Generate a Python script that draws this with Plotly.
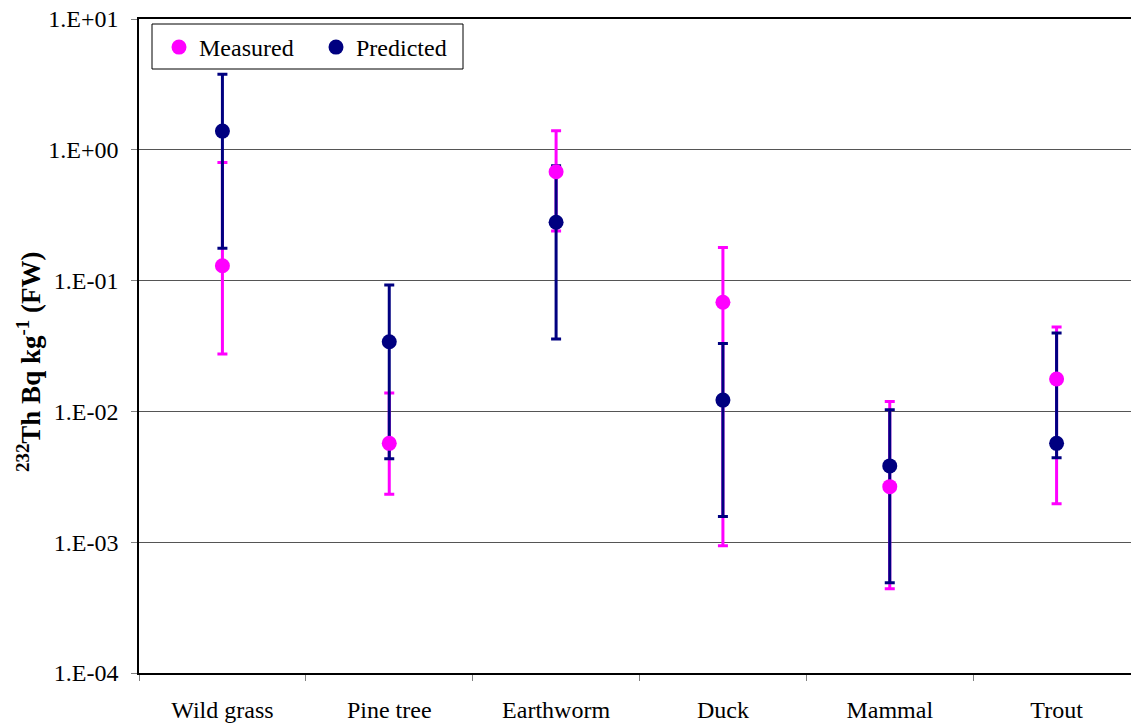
import plotly.graph_objects as go

categories = ["Wild grass", "Pine tree", "Earthworm", "Duck", "Mammal", "Trout"]
measured = [0.130, 0.0057, 0.68, 0.0683, 0.00266, 0.0177]
measured_high = [0.80, 0.0138, 1.40, 0.179, 0.0119, 0.0442]
measured_low = [0.0275, 0.00233, 0.239, 0.00094, 0.00044, 0.00197]
predicted = [1.39, 0.0341, 0.279, 0.0122, 0.00383, 0.0057]
predicted_high = [3.78, 0.0925, 0.756, 0.033, 0.0103, 0.0397]
predicted_low = [0.177, 0.00435, 0.0358, 0.00157, 0.00049, 0.00443]
y_tickvals = [1e-4, 1e-3, 1e-2, 1e-1, 1e0, 1e1]
y_ticktext = ["1.E-04", "1.E-03", "1.E-02", "1.E-01", "1.E+00", "1.E+01"]
y_title = "<sup>232</sup>Th Bq kg<sup>-1</sup> (FW)"

MAG = "#FF00FF"
NAVY = "#000080"
FONT = "Liberation Serif"
FS = 24

# plot area in pixels (for converting layout positions)
L, T, W, H = 139, 19, 992, 654


def px_x(x):
    return (x - L) / W


def px_y(y):
    return 1 - (y - T) / H


def err(vals, hi, lo):
    return [h - v for v, h in zip(vals, hi)], [v - l for v, l in zip(vals, lo)]


m_up, m_dn = err(measured, measured_high, measured_low)
p_up, p_dn = err(predicted, predicted_high, predicted_low)

fig = go.Figure()
for vals, up, dn, col in [(measured, m_up, m_dn, MAG), (predicted, p_up, p_dn, NAVY)]:
    fig.add_trace(go.Scatter(
        x=categories, y=vals, mode="markers", showlegend=False, hoverinfo="skip",
        marker=dict(size=1, color="rgba(0,0,0,0)"),
        error_y=dict(type="data", symmetric=False, array=up, arrayminus=dn,
                     color=col, thickness=3, width=5),
    ))
fig.add_trace(go.Scatter(x=categories, y=measured, mode="markers", name="Measured",
                         marker=dict(size=15, color=MAG)))
fig.add_trace(go.Scatter(x=categories, y=predicted, mode="markers", name="Predicted",
                         marker=dict(size=15, color=NAVY)))

fig.add_shape(type="rect", xref="paper", yref="paper",
              x0=px_x(152), x1=px_x(463), y0=px_y(69), y1=px_y(24),
              line=dict(color="black", width=1), fillcolor="white", layer="below")

fig.add_annotation(text=y_title, xref="paper", yref="paper",
                   x=px_x(29), y=px_y(362), xanchor="center", yanchor="middle",
                   textangle=-90, showarrow=False,
                   font=dict(family=FONT, size=27, color="black", weight="bold"))

fig.update_layout(
    width=1131, height=723,
    margin=dict(l=L, r=0, t=T, b=50),
    paper_bgcolor="white", plot_bgcolor="white",
    font=dict(family=FONT, size=FS, color="black"),
    showlegend=True,
    legend=dict(
        orientation="h", x=px_x(159), y=px_y(25), xanchor="left", yanchor="top",
        bgcolor="rgba(0,0,0,0)", borderwidth=0,
        font=dict(family=FONT, size=FS, color="black"),
        entrywidth=112,
    ),
    xaxis=dict(
        type="category", range=[-0.5, 5.446],
        showline=True, linecolor="black", linewidth=2, mirror=True,
        ticks="outside", tickson="boundaries", ticklen=6, tickcolor="#808080",
        showgrid=False, ticklabelstandoff=14,
        tickfont=dict(family=FONT, size=FS, color="black"),
    ),
    yaxis=dict(
        type="log", range=[-4, 1],
        tickvals=y_tickvals, ticktext=y_ticktext,
        showline=True, linecolor="black", linewidth=1.5,
        ticks="outside", ticklen=6, tickcolor="#808080",
        showgrid=True, gridcolor="#555555", gridwidth=1,
        ticklabelstandoff=8,
        tickfont=dict(family=FONT, size=FS, color="black"),
    ),
)

fig.write_html("out.html")
